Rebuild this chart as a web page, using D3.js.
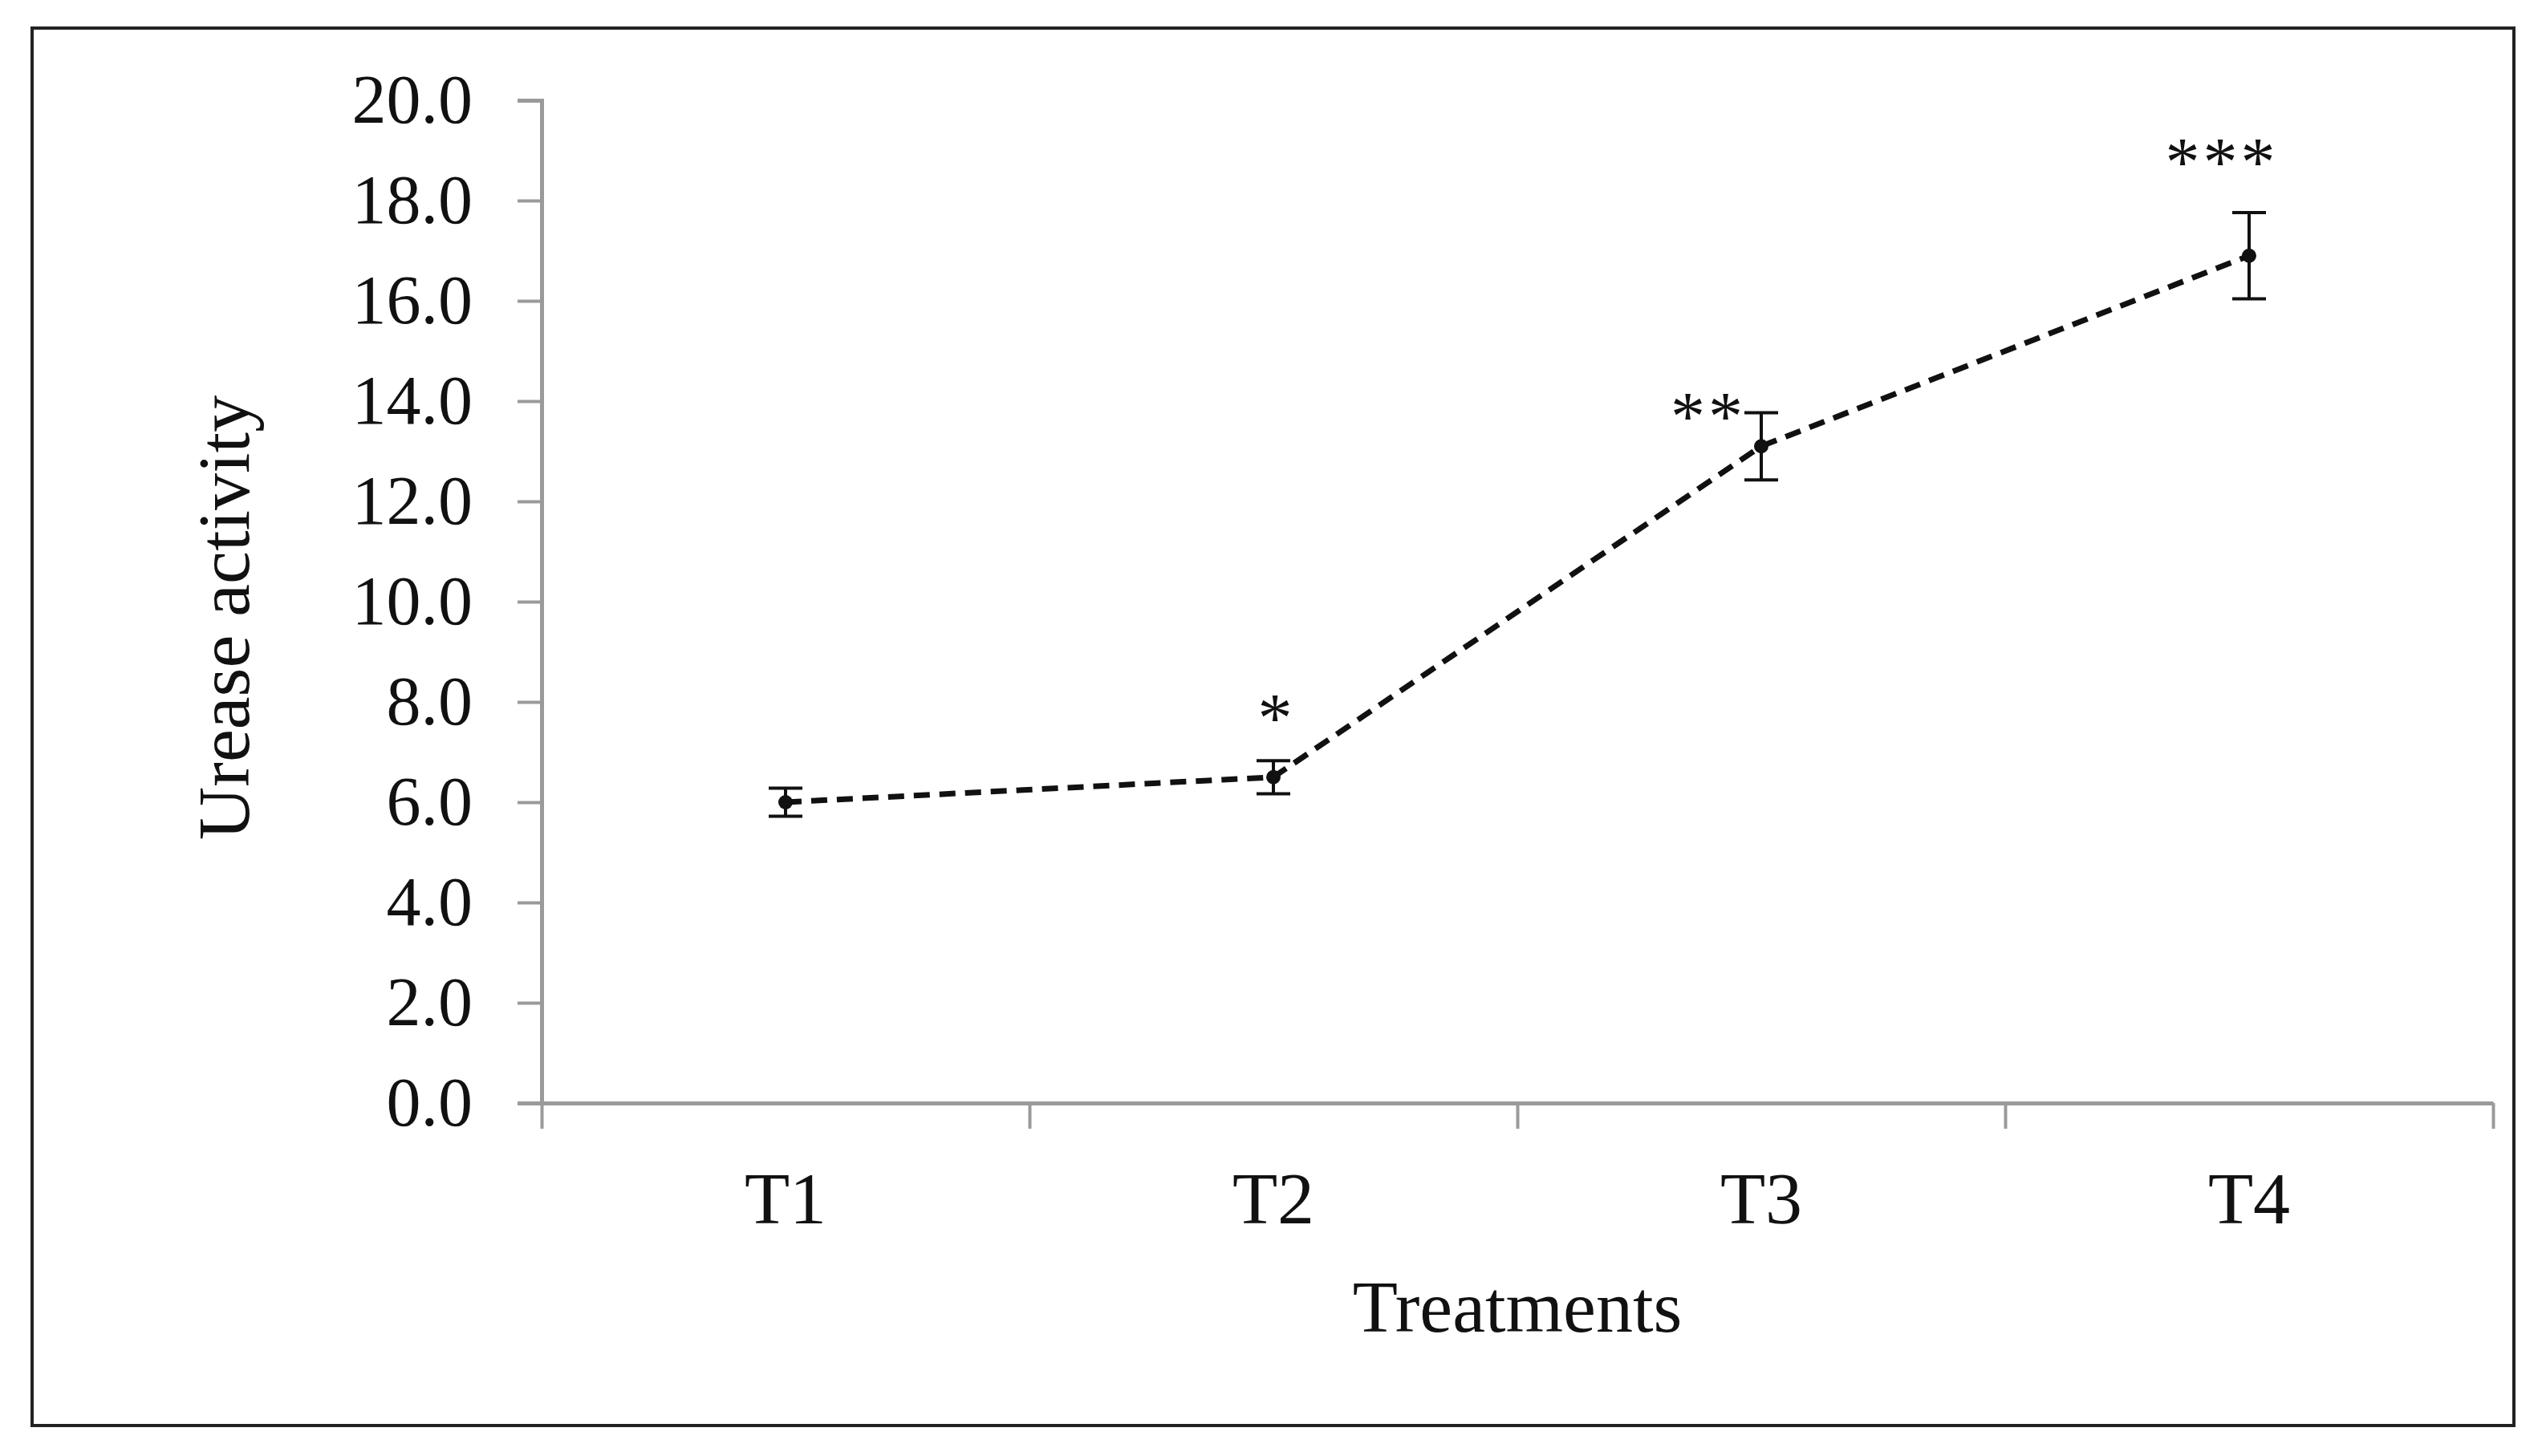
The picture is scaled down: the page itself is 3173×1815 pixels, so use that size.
<!DOCTYPE html>
<html>
<head>
<meta charset="utf-8">
<script src="https://cdn.jsdelivr.net/npm/d3@7"></script>
<style>
  body { margin: 0; background: #fff; }
  text { font-family: "Liberation Serif", "DejaVu Serif", serif; fill: #111; }
</style>
</head>
<body>
<svg id="chart"></svg>
<script>
// values
const treatments = ['T1', 'T2', 'T3', 'T4'];
const urease = [6.0, 6.5, 13.1, 16.9];
const urease_err = [0.28, 0.33, 0.67, 0.86];
const stars = ['', '*', '**', '***'];
const y_ticks = [0, 2, 4, 6, 8, 10, 12, 14, 16, 18, 20];

const width = 3173;
const height = 1815;
const margin = { left: 675, right: 66, top: 125, bottom: 440 };

const svg = d3.select('#chart')
  .attr('width', width)
  .attr('height', height);

// outer frame
svg.append('rect')
  .attr('x', 40).attr('y', 35)
  .attr('width', 3093).attr('height', 1742)
  .attr('fill', 'none')
  .attr('stroke', '#222')
  .attr('stroke-width', 4);

const x = d3.scaleBand()
  .domain(treatments)
  .range([margin.left, width - margin.right])
  .padding(0);

// band edges, for the tick marks between categories
const xEdge = d3.scaleLinear()
  .domain([0, treatments.length])
  .range([margin.left, width - margin.right]);

const y = d3.scaleLinear()
  .domain([0, 20])
  .range([height - margin.bottom, margin.top]);

const cx = (d, i) => x(treatments[i]) + x.bandwidth() / 2;

// y axis
const yAxis = svg.append('g')
  .attr('transform', `translate(${margin.left},0)`)
  .call(d3.axisLeft(y)
    .tickValues(y_ticks)
    .tickFormat(d3.format('.1f'))
    .tickSize(30)
    .tickPadding(56));
yAxis.select('.domain').attr('stroke', '#9a9a9a').attr('stroke-width', 5);
yAxis.selectAll('.tick line').attr('stroke', '#9a9a9a').attr('stroke-width', 4);
yAxis.selectAll('.tick text')
  .attr('font-size', 86)
  .attr('font-family', '"Liberation Serif", serif')
  .attr('fill', '#111');

// x axis: edge ticks
const xAxis = svg.append('g')
  .attr('transform', `translate(0,${y(0)})`)
  .call(d3.axisBottom(xEdge)
    .tickValues(d3.range(treatments.length + 1))
    .tickFormat('')
    .tickSize(32)
    .tickSizeOuter(0));
xAxis.select('.domain').attr('stroke', '#9a9a9a').attr('stroke-width', 5);
xAxis.selectAll('.tick line').attr('stroke', '#9a9a9a').attr('stroke-width', 4);

// category labels
const xLab = svg.append('g')
  .attr('transform', `translate(0,${y(0)})`)
  .call(d3.axisBottom(x).tickSize(0).tickPadding(150));
xLab.select('.domain').remove();
xLab.selectAll('.tick text')
  .attr('font-size', 92)
  .attr('font-family', '"Liberation Serif", serif')
  .attr('fill', '#111')
  .attr('dy', 0);

// axis titles
svg.append('text')
  .attr('x', (margin.left + width - margin.right) / 2)
  .attr('y', 1660)
  .attr('text-anchor', 'middle')
  .attr('font-size', 92)
  .text('Treatments');

svg.append('text')
  .attr('transform', `translate(310,${(y(0) + y(20)) / 2 + 20}) rotate(-90)`)
  .attr('text-anchor', 'middle')
  .attr('font-size', 92)
  .text('Urease activity');

// dashed line through the means
const line = d3.line()
  .x(cx)
  .y((d) => y(d));

svg.append('path')
  .datum(urease)
  .attr('d', line)
  .attr('fill', 'none')
  .attr('stroke', '#111')
  .attr('stroke-width', 7)
  .attr('stroke-dasharray', '20 12');

// error bars
const cap = 21;
const bars = svg.append('g')
  .selectAll('g')
  .data(urease)
  .join('g')
  .attr('stroke', '#111')
  .attr('stroke-width', 4);

bars.append('line')
  .attr('x1', cx).attr('x2', cx)
  .attr('y1', (d, i) => y(d + urease_err[i]))
  .attr('y2', (d, i) => y(d - urease_err[i]));
bars.append('line')
  .attr('x1', (d, i) => cx(d, i) - cap).attr('x2', (d, i) => cx(d, i) + cap)
  .attr('y1', (d, i) => y(d + urease_err[i]))
  .attr('y2', (d, i) => y(d + urease_err[i]));
bars.append('line')
  .attr('x1', (d, i) => cx(d, i) - cap).attr('x2', (d, i) => cx(d, i) + cap)
  .attr('y1', (d, i) => y(d - urease_err[i]))
  .attr('y2', (d, i) => y(d - urease_err[i]));

svg.append('g')
  .selectAll('circle')
  .data(urease)
  .join('circle')
  .attr('cx', cx)
  .attr('cy', (d) => y(d))
  .attr('r', 9)
  .attr('fill', '#111');

// significance stars: T2 and T4 sit above the bar, T3 sits beside its cap
const star_dx = [0, 4, -66, -34];
const star_dy = [0, 88, 30, 98];
svg.append('g')
  .selectAll('text')
  .data(urease)
  .join('text')
  .attr('x', (d, i) => cx(d, i) + star_dx[i])
  .attr('y', (d, i) => y(d + urease_err[i]) - star_dy[i] + 64)
  .attr('text-anchor', 'middle')
  .attr('font-size', 86)
  .attr('letter-spacing', 4)
  .text((d, i) => stars[i]);
</script>
</body>
</html>
